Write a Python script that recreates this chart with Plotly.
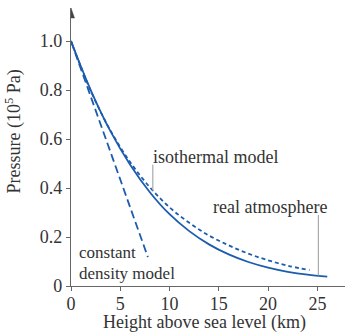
import plotly.graph_objects as go

# Data
real_h = [0, 2, 4, 6, 8, 10, 12, 14, 16, 18, 20, 22, 24, 26]
real_p = [1.0, 0.80, 0.632, 0.495, 0.383, 0.293, 0.224, 0.170, 0.129, 0.098, 0.075, 0.058, 0.046, 0.038]

iso_h = [0, 2, 4, 6, 8, 10, 12, 14, 16, 18, 20, 22, 24.2]
iso_p = [1.0, 0.797, 0.635, 0.506, 0.403, 0.321, 0.258, 0.206, 0.166, 0.132, 0.105, 0.083, 0.065]

const_h = [0, 7.8]
const_p = [1.0, 0.118]

x_ticks = [0, 5, 10, 15, 20, 25]
y_ticks = [0, 0.2, 0.4, 0.6, 0.8, 1.0]
y_tick_labels = ["0", "0.2", "0.4", "0.6", "0.8", "1.0"]

BLUE = "#1c5cae"
FONT = "Liberation Serif"
TXT = "#333333"
FS = 18

fig = go.Figure()
fig.add_trace(go.Scatter(x=const_h, y=const_p, mode="lines",
                         line=dict(color=BLUE, width=1.8, dash="8px,4px")))
fig.add_trace(go.Scatter(x=iso_h, y=iso_p, mode="lines",
                         line=dict(color=BLUE, width=1.8, dash="4px,3px", shape="spline")))
fig.add_trace(go.Scatter(x=real_h, y=real_p, mode="lines",
                         line=dict(color=BLUE, width=1.8, shape="spline")))

# leader lines
fig.add_shape(type="line", x0=8.3, x1=8.3, y0=0.39, y1=0.495, line=dict(color="#aaaaaa", width=1.2))
fig.add_shape(type="line", x0=25.1, x1=25.1, y0=0.043, y1=0.29, line=dict(color="#aaaaaa", width=1.2))

# y axis arrow head
fig.add_shape(type="path", xref="x", yref="y", xsizemode="pixel", ysizemode="pixel",
              xanchor=0, yanchor=1.135, path="M-3.5,-10 L0,0 L3.5,-10 Z",
              fillcolor="#444444", line=dict(color="#444444", width=0.5))

ann = dict(font=dict(family=FONT, size=FS, color=TXT), showarrow=False, xanchor="left")
fig.add_annotation(x=8.15, y=0.528, text="isothermal model", **ann)
fig.add_annotation(x=14.2, y=0.323, text="real atmosphere", **ann)
ann_small = dict(font=dict(family=FONT, size=17, color=TXT), showarrow=False, xanchor="left")
fig.add_annotation(x=0.65, y=0.135, text="constant", **ann_small)
fig.add_annotation(x=0.65, y=0.052, text="density model", **ann_small)

# axis titles
fig.add_annotation(x=0.488, y=-0.133, xref="paper", yref="paper", xanchor="center", yanchor="middle",
                   text="Height above sea level (km)", showarrow=False,
                   font=dict(family=FONT, size=FS, color=TXT))
fig.add_annotation(x=-0.208, y=0.556, xref="paper", yref="paper", xanchor="center", yanchor="middle",
                   textangle=-90, text="Pressure (10<sup>5</sup> Pa)", showarrow=False,
                   font=dict(family=FONT, size=FS, color=TXT))

fig.update_layout(
    width=345, height=332,
    margin=dict(l=71, r=0, t=8, b=46),
    paper_bgcolor="white", plot_bgcolor="white",
    showlegend=False,
    xaxis=dict(range=[0, 27.8], tickvals=x_ticks, showgrid=False, zeroline=False,
               showline=True, linecolor="#666666", linewidth=1.2,
               ticks="outside", ticklen=4, tickcolor="#666666", ticklabelstandoff=-3,
               tickfont=dict(family=FONT, size=FS, color=TXT)),
    yaxis=dict(range=[0, 1.135], tickvals=y_ticks, ticktext=y_tick_labels, showgrid=False,
               zeroline=False, showline=True, linecolor="#666666", linewidth=1.2,
               ticks="outside", ticklen=4, tickcolor="#666666",
               tickfont=dict(family=FONT, size=FS, color=TXT)),
)

fig.write_html("out.html")
